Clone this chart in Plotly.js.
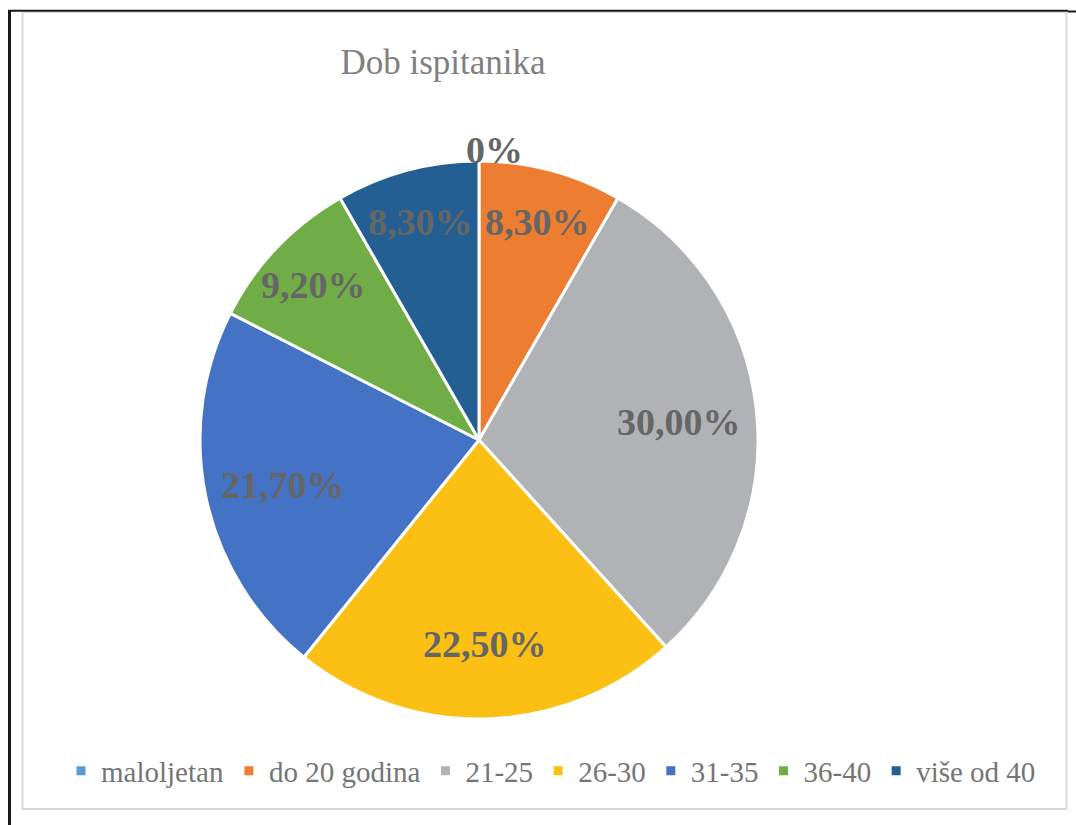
<!DOCTYPE html>
<html>
<head>
<meta charset="utf-8">
<script src="https://cdn.plot.ly/plotly-3.0.1.min.js"></script>
<style>html,body{margin:0;padding:0;background:#fff;}#chart{width:1076px;height:825px;}</style>
</head>
<body>
<div id="chart"></div>
<script>
// ---- data ----
const categories = ['maloljetan', 'do 20 godina', '21-25', '26-30', '31-35', '36-40', 'više od 40'];
const shares = [0, 8.3, 30.0, 22.5, 21.7, 9.2, 8.3];
const shareLabels = ['0%', '8,30%', '30,00%', '22,50%', '21,70%', '9,20%', '8,30%'];
const sliceColors = ['#5B9BD5', '#ED7D31', '#B1B2B5', '#FBC013', '#4472C4', '#70AD47', '#235F93'];

// ---- layout geometry ----
const W = 1076, H = 825;
const cxPx = 479, cyPx = 440, Rpx = 279;
const dom = {
  x: [(cxPx - Rpx) / W, (cxPx + Rpx) / W],
  y: [(H - (cyPx + Rpx)) / H, (H - (cyPx - Rpx)) / H]
};

// label positions derived from the slice angles (clockwise from 12 o'clock)
const total = shares.reduce((a, b) => a + b, 0);
let cum = 0;
const annotations = [];
shares.forEach((v, i) => {
  const mid = (cum + v / 2) / total;
  cum += v;
  const th = mid * 2 * Math.PI;
  let rf;
  if (v === 0) rf = 1.05;
  else if (v / total < 0.1) rf = 0.82;
  else rf = 0.72;
  const px = cxPx + rf * Rpx * Math.sin(th);
  const py = cyPx - rf * Rpx * Math.cos(th);
  annotations.push({
    xref: 'paper', yref: 'paper',
    x: px / W, y: (H - py) / H,
    xanchor: 'center', yanchor: 'middle',
    xshift: v === 0 ? 15 : 0,
    yshift: -3,
    text: '<b>' + shareLabels[i] + '</b>',
    showarrow: false,
    font: {family: 'Liberation Serif', size: 38, color: '#666666'}
  });
});

const trace = {
  type: 'pie',
  labels: categories,
  values: shares,
  sort: false,
  direction: 'clockwise',
  rotation: 0,
  textinfo: 'none',
  hoverinfo: 'label+percent',
  marker: {colors: sliceColors, line: {color: '#ffffff', width: 3}},
  domain: dom
};

const px2x = p => p / W, px2y = p => (H - p) / H;
const shapes = [
  // gray inner frame
  {type: 'rect', xref: 'paper', yref: 'paper', x0: px2x(22.5), x1: px2x(1066.5), y0: px2y(809), y1: px2y(12),
   line: {color: '#D9D9D9', width: 2}, fillcolor: 'rgba(0,0,0,0)'},
  // black outer lines
  {type: 'line', xref: 'paper', yref: 'paper', x0: px2x(9.5), x1: px2x(9.5), y0: px2y(10), y1: 0,
   line: {color: '#1a1a1a', width: 3}},
  {type: 'line', xref: 'paper', yref: 'paper', x0: px2x(8), x1: px2x(1068), y0: px2y(10.8), y1: px2y(10.8),
   line: {color: '#1a1a1a', width: 2}},
  {type: 'line', xref: 'paper', yref: 'paper', x0: px2x(1068), x1: 1, y0: px2y(11.5), y1: px2y(11.5),
   line: {color: '#1a1a1a', width: 2}}
];

const layout = {
  width: W, height: H,
  margin: {l: 0, r: 0, t: 0, b: 0},
  paper_bgcolor: '#ffffff',
  title: {
    text: 'Dob ispitanika',
    x: 443 / W, xanchor: 'center', xref: 'paper',
    y: (H - 62) / H, yanchor: 'middle', yref: 'container',
    font: {family: 'Liberation Serif', size: 35, color: '#808080'}
  },
  showlegend: true,
  legend: {
    orientation: 'h',
    x: 551 / W, xanchor: 'center',
    y: (H - 771) / H, yanchor: 'middle',
    font: {family: 'Liberation Serif', size: 29, color: '#757575'},
    traceorder: 'normal',
    bgcolor: 'rgba(0,0,0,0)'
  },
  annotations: annotations,
  shapes: shapes
};

Plotly.newPlot('chart', [trace], layout, {displayModeBar: false, staticPlot: true});
</script>
</body>
</html>
